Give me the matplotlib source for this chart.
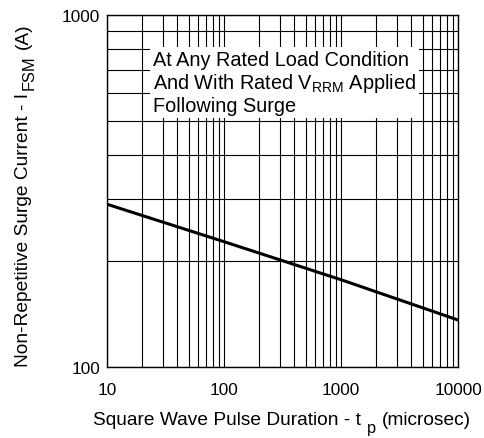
import matplotlib
matplotlib.use("Agg")
import matplotlib.pyplot as plt
from matplotlib.ticker import LogLocator, NullFormatter, FixedLocator, FixedFormatter

plt.rcParams['font.family'] = ['Liberation Sans', 'DejaVu Sans']
plt.rcParams['mathtext.default'] = 'regular'

# Data
pulse_us = [10, 100, 1000, 10000]
surge_a = [290, 227, 177, 136]

x_ticks = [10, 100, 1000, 10000]
x_ticklabels = ["10", "100", "1000", "10000"]
y_ticks = [100, 1000]
y_ticklabels = ["100", "1000"]

W, H = 484, 439
fig = plt.figure(figsize=(W / 100, H / 100), dpi=100)
ax = fig.add_axes([107 / W, 1 - 368 / H, (458 - 107) / W, (368 - 16) / H])

ax.set_xscale('log')
ax.set_yscale('log')
ax.set_xlim(10, 10000)
ax.set_ylim(100, 1000)

ax.xaxis.set_major_locator(FixedLocator(x_ticks))
ax.xaxis.set_major_formatter(FixedFormatter(x_ticklabels))
ax.yaxis.set_major_locator(FixedLocator(y_ticks))
ax.yaxis.set_major_formatter(FixedFormatter(y_ticklabels))
ax.xaxis.set_minor_locator(LogLocator(base=10, subs=range(2, 10)))
ax.yaxis.set_minor_locator(LogLocator(base=10, subs=range(2, 10)))
ax.xaxis.set_minor_formatter(NullFormatter())
ax.yaxis.set_minor_formatter(NullFormatter())

ax.grid(True, which='both', color='black', linewidth=0.8)
ax.tick_params(which='both', length=0, labelsize=12.4)
ax.tick_params(axis='x', pad=10.5)
ax.tick_params(axis='y', pad=5)
for s in ax.spines.values():
    s.set_linewidth(1.0)

ax.plot(pulse_us, surge_a, color='black', linewidth=2.2)

ax.text(0.131, 0.901,
        "At Any Rated Load Condition\nAnd With Rated V$_{RRM}$ Applied\nFollowing Surge",
        transform=ax.transAxes, ha='left', va='top', fontsize=14.3,
        linespacing=1.14,
        bbox=dict(facecolor='white', edgecolor='none', pad=1.8))

LFS = 13.8
SFS = 11.8
# x-axis label with a large, lowered subscript
xl1 = fig.text(93 / W, (H - 425) / H, "Square Wave Pulse Duration - t",
               fontsize=LFS, ha='left', va='baseline')
xl2 = ax.annotate("p", xy=(1, 0), xycoords=xl1, xytext=(6, -7),
                  textcoords='offset pixels', fontsize=SFS, ha='left', va='bottom',
                  annotation_clip=False)
xl3 = ax.annotate("(microsec)", xy=(1, 0), xycoords=(xl2, xl1), xytext=(6, 0),
                  textcoords='offset pixels', fontsize=LFS, ha='left', va='bottom',
                  annotation_clip=False)

# y-axis label
yl1 = fig.text(32 / W, (H - 367) / H, "Non-Repetitive Surge Current - I",
               fontsize=LFS, rotation=90, ha='right', va='bottom')
yl2 = ax.annotate("FSM", xy=(1, 1), xycoords=yl1, xytext=(5, 3),
                  textcoords='offset pixels', fontsize=SFS, rotation=90,
                  ha='right', va='bottom', annotation_clip=False)
yl3 = ax.annotate("(A)", xy=(1, 1), xycoords=(yl1, yl2), xytext=(0, 6),
                  textcoords='offset pixels', fontsize=LFS, rotation=90,
                  ha='right', va='bottom', annotation_clip=False)

fig.savefig("out.png", dpi=100)
